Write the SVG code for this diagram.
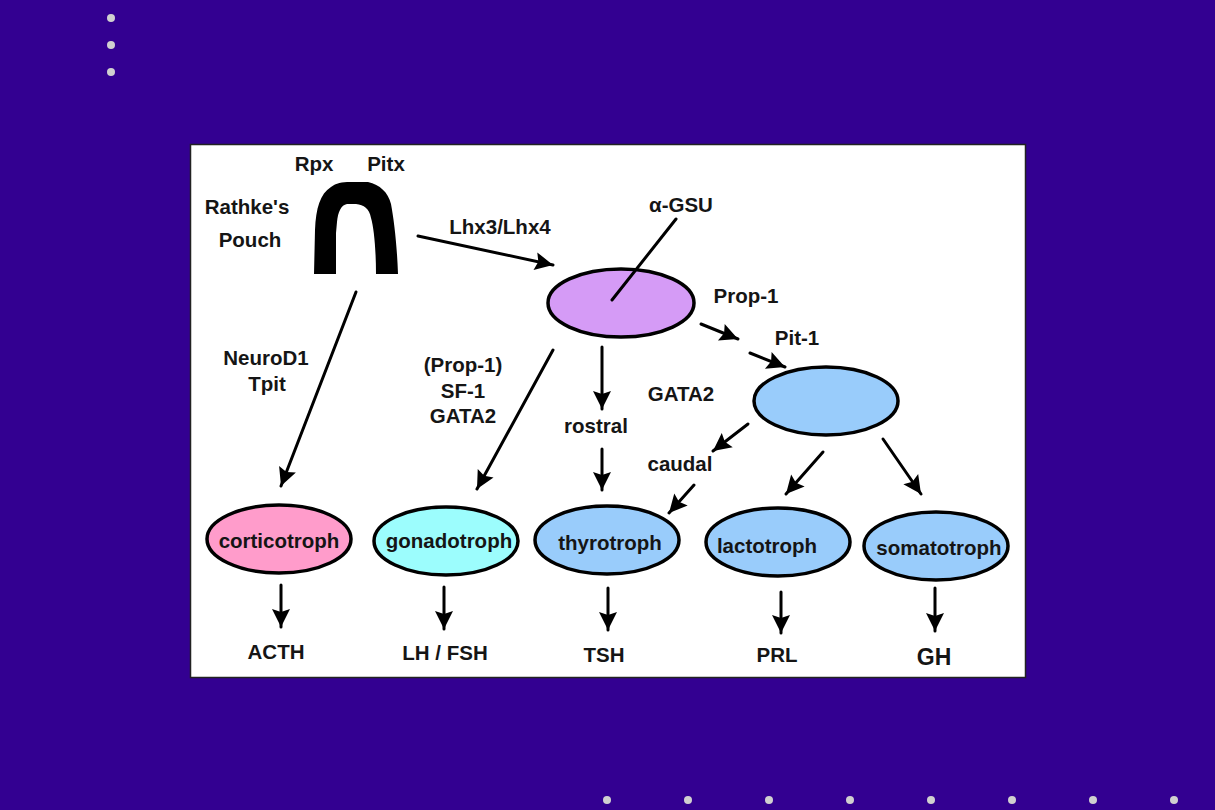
<svg xmlns="http://www.w3.org/2000/svg" width="1215" height="810" viewBox="0 0 1215 810">
<defs>
<marker id="head" markerUnits="userSpaceOnUse" markerWidth="24" markerHeight="24" viewBox="0 0 24 24" refX="21" refY="12" orient="auto">
<path d="M3 3 L21 12 L3 21 L6 12 Z" fill="#000"/>
</marker>
</defs>
<style>
text{font-family:"Liberation Sans",Arial,sans-serif;font-weight:bold;font-size:20.500px;fill:#151515;text-anchor:middle}
.cell{stroke:#000;stroke-width:3.500}
.line{stroke:#000;stroke-width:3;fill:none;stroke-linecap:round}
.arrow{marker-end:url(#head)}
.dot{fill:#d0d0d0}
</style>
<rect width="1215" height="810" fill="#330091"/>
<g id="bullets">
<circle class="dot" cx="111" cy="18" r="4"/><circle class="dot" cx="111" cy="45" r="4"/><circle class="dot" cx="111" cy="72" r="4"/>
<circle class="dot" cx="607" cy="800" r="4"/><circle class="dot" cx="688" cy="800" r="4"/><circle class="dot" cx="769" cy="800" r="4"/><circle class="dot" cx="850" cy="800" r="4"/><circle class="dot" cx="931" cy="800" r="4"/><circle class="dot" cx="1012" cy="800" r="4"/><circle class="dot" cx="1093" cy="800" r="4"/><circle class="dot" cx="1174" cy="800" r="4"/>
</g>
<rect id="panel" x="190.500" y="144.500" width="835" height="533" fill="#fff" stroke="#222" stroke-width="1.500"/>
<!-- arch drawn as a thick hand-shaped band, open at the bottom -->
<g id="pouch"><path d="M314 274 L315 230 C316 208 320 194 331 187 C336 183 342 182 350 182 L368 182 C380 185 388 192 391 204 C394 220 397 245 398 274 L376 274 C376 250 374 228 371 218 C369 208 364 205 356 204 L347 204 C341 205 338 212 337 222 L336 233 L336 274 Z" fill="#000"/></g>
<g id="alpha-gsu-cell"><ellipse class="cell" cx="621" cy="303" rx="73" ry="34" fill="#d59bf6"/></g>
<g id="pit1-cell"><ellipse class="cell" cx="826" cy="401" rx="72" ry="34" fill="#99ccfb"/></g>
<g id="corticotroph"><ellipse class="cell" cx="279" cy="539" rx="72" ry="34" fill="#ff9ccb"/><text x="279" y="548">corticotroph</text></g>
<g id="gonadotroph"><ellipse class="cell" cx="446" cy="541" rx="72" ry="34" fill="#9cfdfd"/><text x="449" y="548">gonadotroph</text></g>
<g id="thyrotroph"><ellipse class="cell" cx="607" cy="540" rx="72" ry="34" fill="#99ccfb"/><text x="610" y="550">thyrotroph</text></g>
<g id="lactotroph"><ellipse class="cell" cx="778" cy="542" rx="72" ry="34" fill="#99ccfb"/><text x="767" y="553">lactotroph</text></g>
<g id="somatotroph"><ellipse class="cell" cx="936" cy="546" rx="72" ry="34" fill="#99ccfb"/><text x="939" y="555">somatotroph</text></g>
<g id="connectors">
<path class="line arrow" d="M418 236 L553 265"/>
<path class="line arrow" d="M356 292 L281 486"/>
<path class="line arrow" d="M553 350 L477 489"/>
<path class="line" d="M676 219 L612 300"/>
<path class="line arrow" d="M602 347 L602 409"/>
<path class="line arrow" d="M602 449 L602 490"/>
<path class="line arrow" d="M701 324 L738 339"/>
<path class="line arrow" d="M750 353 L785 367"/>
<path class="line arrow" d="M748 424 L713 451"/>
<path class="line arrow" d="M694 485 L669 513"/>
<path class="line arrow" d="M823 452 L786 494"/>
<path class="line arrow" d="M883 439 L921 494"/>
<path class="line arrow" d="M281 585 L281 627"/>
<path class="line arrow" d="M444 587 L444 629"/>
<path class="line arrow" d="M608 588 L608 630"/>
<path class="line arrow" d="M781 592 L781 633"/>
<path class="line arrow" d="M935 588 L935 631"/>
</g>
<g id="labels">
<text x="314" y="171">Rpx</text>
<text x="386" y="171">Pitx</text>
<text x="247" y="214">Rathke's</text>
<text x="250" y="247">Pouch</text>
<text x="500" y="234">Lhx3/Lhx4</text>
<text x="681" y="212">α-GSU</text>
<text x="746" y="303">Prop-1</text>
<text x="797" y="345">Pit-1</text>
<text x="266" y="365">NeuroD1</text>
<text x="267" y="391">Tpit</text>
<text x="463" y="372">(Prop-1)</text>
<text x="463" y="398">SF-1</text>
<text x="463" y="423">GATA2</text>
<text x="681" y="401">GATA2</text>
<text x="596" y="433">rostral</text>
<text x="680" y="471">caudal</text>
<text x="276" y="659">ACTH</text>
<text x="445" y="660">LH / FSH</text>
<text x="604" y="662">TSH</text>
<text x="777" y="662">PRL</text>
<text x="934" y="665" style="font-size:23px">GH</text>
</g>
</svg>
